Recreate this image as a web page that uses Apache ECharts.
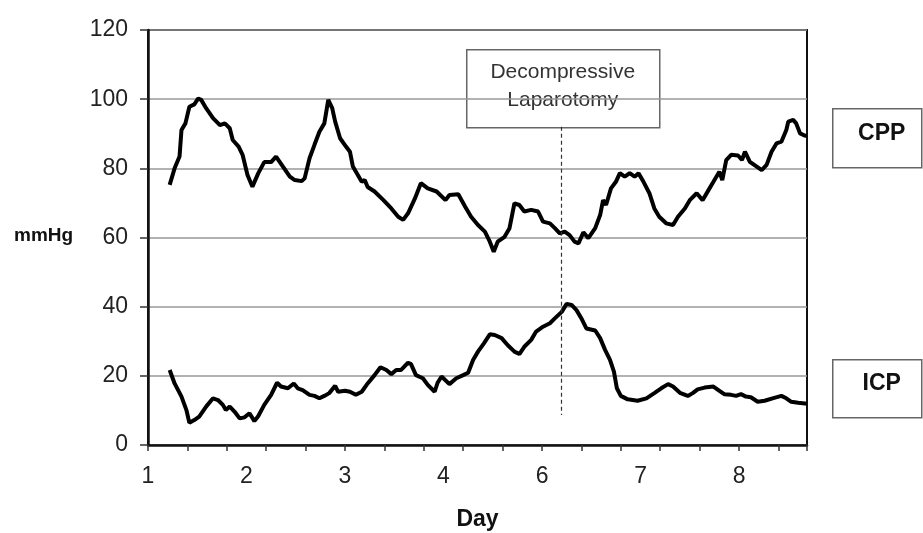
<!DOCTYPE html>
<html>
<head>
<meta charset="utf-8">
<script src="https://cdn.jsdelivr.net/npm/echarts/dist/echarts.min.js"></script>
<style>
html, body { margin: 0; padding: 0; background: #fff; }
#chart { width: 923px; height: 533px; }
</style>
</head>
<body>
<div id="chart"></div>
<script>
// x positions are in axis units: position 1..7 carry the labels below
var dayLabels = ['1', '2', '3', '4', '6', '7', '8'];
var yTicks = [0, 20, 40, 60, 80, 100, 120];

var cppDay = [1.22,1.27,1.32,1.34,1.38,1.42,1.47,1.51,1.54,1.59,1.66,1.73,1.78,1.83,1.86,1.92,1.96,2.01,2.06,2.12,
    2.18,2.25,2.30,2.37,2.44,2.49,2.56,2.59,2.64,2.69,2.74,2.79,2.83,2.87,2.90,2.95,3.01,3.05,3.08,3.13,
    3.17,3.20,3.23,3.30,3.39,3.47,3.54,3.59,3.64,3.71,3.77,3.84,3.93,4.02,4.06,4.15,4.22,4.28,4.35,4.42,
    4.47,4.51,4.55,4.62,4.67,4.72,4.77,4.82,4.89,4.96,5.01,5.08,5.13,5.18,5.23,5.28,5.33,5.37,5.42,5.47,
    5.54,5.59,5.62,5.65,5.70,5.75,5.79,5.84,5.89,5.94,5.98,6.03,6.09,6.14,6.19,6.26,6.33,6.38,6.45,6.50,
    6.57,6.63,6.69,6.74,6.80,6.83,6.87,6.92,6.99,7.03,7.06,7.11,7.18,7.23,7.28,7.33,7.38,7.43,7.48,7.50,
    7.55,7.58,7.62,7.67,7.69];
var cppVal = [75.2,80.0,83.4,91.1,93.0,97.8,98.5,100.2,99.8,97.4,94.5,92.5,93.0,91.6,88.2,86.3,83.9,78.1,74.7,78.6,
    81.8,81.8,83.4,80.5,77.6,76.6,76.3,77.1,82.9,86.8,90.6,93.0,99.8,97.4,93.5,88.7,86.3,84.8,80.5,78.1,
    76.1,76.6,74.6,73.3,70.8,68.4,66.0,65.1,67.0,71.3,75.7,74.2,73.3,70.8,72.3,72.5,68.9,66.0,63.6,61.7,
    58.8,55.9,58.8,60.2,62.7,69.9,69.4,67.5,68.0,67.5,64.6,64.1,62.7,61.2,61.7,60.7,58.8,58.3,61.5,59.8,
    62.7,66.5,70.8,69.4,74.2,76.1,78.6,77.6,78.6,77.6,78.6,76.1,72.8,68.4,66.0,64.1,63.6,66.0,68.4,70.8,
    72.8,70.8,73.7,76.1,79.0,76.6,82.4,83.9,83.7,82.4,84.8,81.9,80.5,79.5,81.0,84.8,87.2,87.7,91.1,93.5,
    94.0,93.0,90.1,89.4,89.5];

var icpDay = [1.22,1.27,1.34,1.39,1.42,1.47,1.52,1.59,1.66,1.71,1.76,1.79,1.83,1.88,1.93,1.98,2.03,2.08,2.12,2.18,
    2.25,2.31,2.35,2.42,2.48,2.52,2.57,2.64,2.69,2.74,2.79,2.84,2.90,2.93,3.00,3.05,3.11,3.17,3.23,3.30,
    3.36,3.42,3.47,3.52,3.57,3.64,3.67,3.72,3.79,3.84,3.91,3.94,3.98,4.06,4.13,4.20,4.25,4.30,4.35,4.41,
    4.47,4.52,4.59,4.65,4.72,4.77,4.82,4.89,4.94,5.01,5.08,5.13,5.20,5.25,5.30,5.35,5.40,5.45,5.54,5.59,
    5.64,5.69,5.73,5.76,5.80,5.87,5.97,6.06,6.14,6.21,6.28,6.33,6.40,6.48,6.53,6.58,6.65,6.74,6.79,6.85,
    6.92,6.97,7.02,7.07,7.12,7.19,7.26,7.34,7.43,7.48,7.53,7.60,7.67,7.69];
var icpVal = [21.7,17.8,14.0,10.1,6.4,7.2,8.2,11.1,13.5,13.0,11.6,10.1,11.1,9.6,7.7,8.0,9.2,6.9,8.4,11.6,
    14.5,18.0,16.9,16.4,17.8,16.4,15.9,14.5,14.2,13.5,14.2,15.0,17.1,15.4,15.7,15.4,14.5,15.4,17.8,20.2,
    22.5,21.7,20.5,21.7,21.7,23.8,23.4,20.2,19.3,17.4,15.4,18.0,19.8,17.6,19.3,20.2,20.9,24.6,27.0,29.4,
    32.0,31.8,30.9,28.9,27.0,26.3,28.4,30.4,32.8,34.2,35.2,36.6,38.5,40.8,40.5,39.0,36.6,33.7,33.1,30.9,
    27.5,24.6,21.2,16.4,14.2,13.2,12.8,13.5,15.0,16.4,17.6,16.9,15.1,14.2,15.0,16.1,16.6,16.9,15.9,14.7,
    14.5,14.2,14.7,14.0,13.8,12.5,12.8,13.5,14.2,13.5,12.5,12.2,12.0,11.9];

var surgeryDay = 5.2;

function zip(xs, ys) {
    var out = [];
    for (var i = 0; i < xs.length; i++) out.push([xs[i], ys[i]]);
    return out;
}

var font = 'Liberation Sans, Arial, sans-serif';

var chart = echarts.init(document.getElementById('chart'));
chart.setOption({
    animation: false,
    grid: {
        left: 148, right: 116, top: 30, bottom: 88,
        outerBoundsMode: 'none',
        show: true, borderColor: '#111', borderWidth: 2
    },
    xAxis: [{
        type: 'value',
        min: 1, max: 7.69, interval: 1,
        name: 'Day', nameLocation: 'middle', nameGap: 63,
        nameTextStyle: { fontFamily: font, fontSize: 23, fontWeight: 'bold', color: '#111' },
        axisLine: { lineStyle: { color: '#111', width: 2.5 } },
        axisTick: { show: false },
        splitLine: { show: false },
        axisLabel: {
            margin: 20, fontFamily: font, fontSize: 23, color: '#222',
            showMaxLabel: false,
            formatter: function (v) {
                var r = Math.round(v);
                return Math.abs(v - r) < 1e-6 ? dayLabels[r - 1] : '';
            }
        }
    }, {
        // minor tick marks along the bottom
        type: 'value', position: 'bottom',
        min: 1, max: 7.69, interval: 0.4,
        axisLine: { show: false },
        axisTick: { show: true, length: 6, lineStyle: { color: '#333', width: 1.5 } },
        axisLabel: { show: false },
        splitLine: { show: false }
    }],
    yAxis: {
        type: 'value',
        min: yTicks[0], max: yTicks[yTicks.length - 1], interval: 20,
        axisLine: { show: true, lineStyle: { color: '#111', width: 2.5 } },
        axisTick: { show: true, length: 8, lineStyle: { color: '#333', width: 1.5 } },
        axisLabel: { margin: 20, fontFamily: font, fontSize: 23, color: '#222' },
        splitLine: { lineStyle: { color: '#999', width: 1.5 } }
    },
    series: [{
        name: 'CPP', type: 'line', xAxisIndex: 0,
        data: zip(cppDay, cppVal),
        showSymbol: false,
        lineStyle: { color: '#000', width: 4 },
        markLine: {
            silent: true, symbol: 'none', label: { show: false },
            lineStyle: { color: '#333', width: 1.2, type: [4, 3] },
            data: [[{ coord: [surgeryDay, 92] }, { coord: [surgeryDay, 8.7] }]]
        }
    }, {
        name: 'ICP', type: 'line', xAxisIndex: 0,
        data: zip(icpDay, icpVal),
        showSymbol: false,
        lineStyle: { color: '#000', width: 4 }
    }],
    graphic: [{
        type: 'text', left: 14, top: 226, z: 100,
        style: { text: 'mmHg', font: 'bold 19px ' + font, fill: '#111' }
    }, {
        type: 'group', left: 466, top: 49, z: 100,
        children: [{
            type: 'rect', shape: { x: 0, y: 0, width: 193, height: 78 },
            style: { fill: '#fff', stroke: '#666', lineWidth: 1.5 }
        }, {
            type: 'text', x: 96, y: 36,
            style: {
                text: 'Decompressive\nLaparotomy', font: '21px ' + font, fill: '#333',
                align: 'center', verticalAlign: 'middle', lineHeight: 28
            }
        }]
    }, {
        type: 'group', left: 832, top: 108, z: 100,
        children: [{
            type: 'rect', shape: { x: 0, y: 0, width: 89, height: 59 },
            style: { fill: '#fff', stroke: '#666', lineWidth: 1.5 }
        }, {
            type: 'text', x: 49, y: 25,
            style: { text: 'CPP', font: 'bold 23px ' + font, fill: '#111', align: 'center', verticalAlign: 'middle' }
        }]
    }, {
        type: 'group', left: 832, top: 359, z: 100,
        children: [{
            type: 'rect', shape: { x: 0, y: 0, width: 89, height: 58 },
            style: { fill: '#fff', stroke: '#666', lineWidth: 1.5 }
        }, {
            type: 'text', x: 49, y: 24,
            style: { text: 'ICP', font: 'bold 23px ' + font, fill: '#111', align: 'center', verticalAlign: 'middle' }
        }]
    }]
});
</script>
</body>
</html>
